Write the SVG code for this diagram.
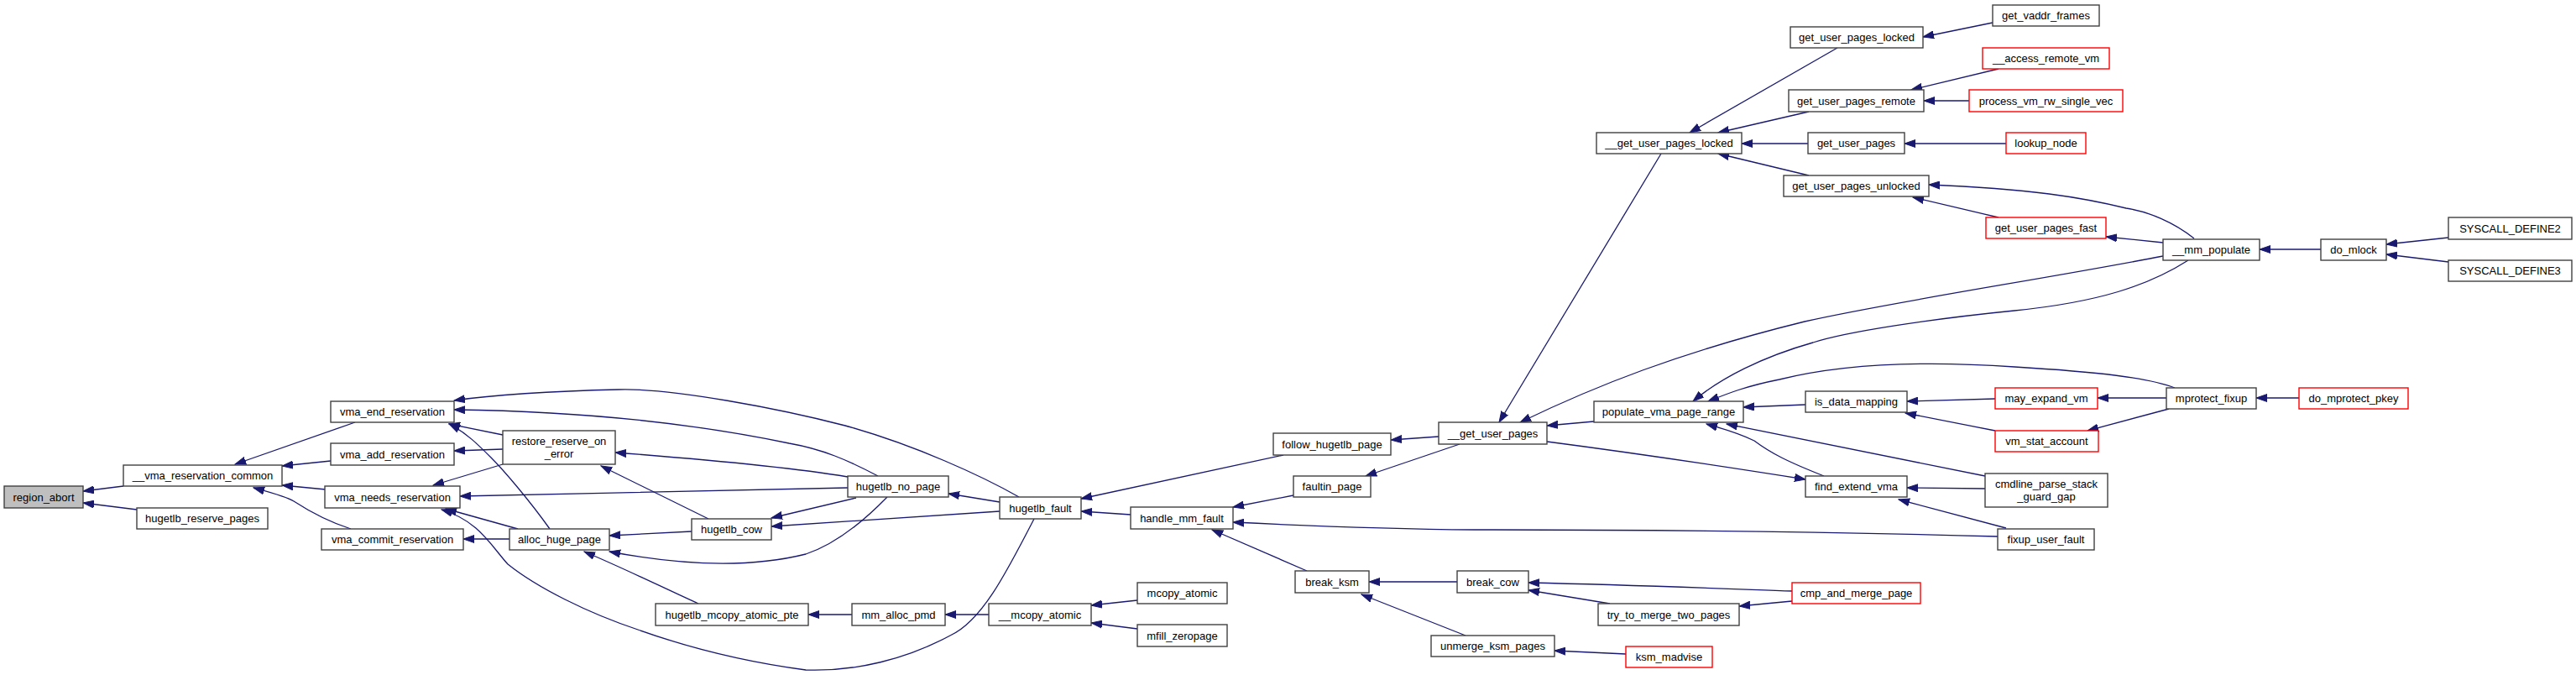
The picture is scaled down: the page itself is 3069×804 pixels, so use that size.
<svg xmlns="http://www.w3.org/2000/svg" width="3069" height="804" viewBox="0 0 3069 804">
<style>
.n rect{fill:#ffffff;stroke:#404040;stroke-width:1.4}
.n.r rect{stroke:#ff0000}
.n.g rect{fill:#bfbfbf}
.n text{font-family:"Liberation Sans",Arial,Helvetica,sans-serif;font-size:13px;fill:#000000;text-anchor:middle}
.e path{fill:none;stroke:#191970;stroke-width:1.3;marker-end:url(#ah)}
</style>
<defs>
<marker id="ah" markerUnits="userSpaceOnUse" markerWidth="14" markerHeight="10" refX="13" refY="5" orient="auto" viewBox="0 0 14 10">
<path d="M0,0.5 L13,5 L0,9.5 z" fill="#191970" stroke="#191970" stroke-width="1"/>
</marker>
</defs>
<rect width="3069" height="804" fill="#ffffff"/>
<g id="edges" class="e">
<path d="M147,579 L99,585"/>
<path d="M163,607 L99,599"/>
<path d="M423,503 L280,553"/>
<path d="M394,549 L336,555"/>
<path d="M388,583 L336,578"/>
<path d="M418,630 C390,621 370,610 350,597 C340,591 320,586 302,581"/>
<path d="M1214,592 C1170,567 1090,530 1007,507 C930,487 800,462 737,464 C650,466 590,470 541,477"/>
<path d="M1046,567 C1010,548 980,535 940,528 C830,505 700,490 541,488"/>
<path d="M599,518 L535,505"/>
<path d="M655,630 C630,595 600,560 585,545 C570,530 555,515 535,505"/>
<path d="M599,535 L541,537"/>
<path d="M599,553 L516,578"/>
<path d="M1010,581 C900,583 700,588 548,591"/>
<path d="M617,630 L531,606"/>
<path d="M1232,618 C1200,680 1170,740 1132,757 C1080,785 1020,800 960,798 C900,790 830,775 760,750 C700,730 640,700 605,672 C585,650 570,620 526,607"/>
<path d="M607,642 L552,642"/>
<path d="M1010,568 C950,558 850,548 733,539"/>
<path d="M844,618 L716,555"/>
<path d="M824,633 L726,638"/>
<path d="M1057,592 C1020,630 990,650 960,660 C900,675 820,675 726,657"/>
<path d="M832,719 C790,700 750,680 696,657"/>
<path d="M1020,593 L919,617"/>
<path d="M1191,609 L919,627"/>
<path d="M1191,598 L1130,588"/>
<path d="M1015,732 L963,732"/>
<path d="M1178,732 L1126,732"/>
<path d="M1355,715 L1300,721"/>
<path d="M1355,749 L1300,742"/>
<path d="M1347,613 L1288,609"/>
<path d="M1529,542 L1288,594"/>
<path d="M1541,590 L1469,604"/>
<path d="M2380,639 C2200,634 2000,631 1757,631 C1650,630 1550,626 1469,622"/>
<path d="M1557,680 L1444,631"/>
<path d="M1714,520 L1657,524"/>
<path d="M1739,529 L1627,567"/>
<path d="M1736,693 L1631,693"/>
<path d="M1746,757 L1622,708"/>
<path d="M2135,704 C2050,701 1950,697 1821,694"/>
<path d="M1918,719 L1821,703"/>
<path d="M1937,779 L1852,775"/>
<path d="M2135,716 L2072,722"/>
<path d="M1979,183 Q1890,330 1786,503"/>
<path d="M1899,502 L1843,507"/>
<path d="M1843,526 C1950,540 2050,555 2151,571"/>
<path d="M2577,305 C2450,330 2250,360 2150,383 C2000,420 1900,460 1811,503"/>
<path d="M2607,310 C2560,340 2500,360 2400,370 C2300,380 2200,395 2160,408 C2100,425 2050,450 2017,478"/>
<path d="M2591,462 C2560,450 2500,443 2400,437 C2300,430 2200,432 2120,452 C2080,460 2060,468 2035,478"/>
<path d="M2151,482 L2077,485"/>
<path d="M2173,567 C2130,550 2110,540 2090,525 C2070,515 2050,510 2033,505"/>
<path d="M2365,567 L2057,505"/>
<path d="M2377,475 L2272,478"/>
<path d="M2377,513 L2270,492"/>
<path d="M2581,474 L2499,474"/>
<path d="M2584,487 L2487,513"/>
<path d="M2365,582 L2272,581"/>
<path d="M2390,629 L2262,595"/>
<path d="M2739,474 L2688,474"/>
<path d="M2765,297 L2692,297"/>
<path d="M2917,283 L2843,291"/>
<path d="M2917,312 L2843,303"/>
<path d="M2614,284 C2590,265 2560,252 2533,248 C2480,235 2420,225 2298,220"/>
<path d="M2577,289 L2509,282"/>
<path d="M2189,57 L2013,158"/>
<path d="M2155,133 L2047,158"/>
<path d="M2154,171 L2075,171"/>
<path d="M2155,209 L2047,183"/>
<path d="M2374,27 L2291,44"/>
<path d="M2381,82 L2277,107"/>
<path d="M2346,120 L2292,120"/>
<path d="M2390,171 L2269,171"/>
<path d="M2381,259 L2279,235"/>
</g>
<g id="n_region_abort" class="n g"><rect x="5" y="579" width="94" height="26"/><text x="52" y="596.5">region_abort</text></g>
<g id="n___vma_reservation_common" class="n"><rect x="147" y="554" width="189" height="25"/><text x="241.5" y="571">__vma_reservation_common</text></g>
<g id="n_hugetlb_reserve_pages" class="n"><rect x="163" y="605" width="156" height="25"/><text x="241" y="622">hugetlb_reserve_pages</text></g>
<g id="n_vma_end_reservation" class="n"><rect x="394" y="478" width="147" height="25"/><text x="467.5" y="495">vma_end_reservation</text></g>
<g id="n_vma_add_reservation" class="n"><rect x="394" y="528" width="147" height="26"/><text x="467.5" y="545.5">vma_add_reservation</text></g>
<g id="n_vma_needs_reservation" class="n"><rect x="387" y="579" width="161" height="26"/><text x="467.5" y="596.5">vma_needs_reservation</text></g>
<g id="n_vma_commit_reservation" class="n"><rect x="383" y="630" width="169" height="25"/><text x="467.5" y="647">vma_commit_reservation</text></g>
<g id="n_restore_reserve_on_error" class="n"><rect x="599" y="513" width="134" height="40"/><text x="666" y="530">restore_reserve_on</text><text x="666" y="545">_error</text></g>
<g id="n_alloc_huge_page" class="n"><rect x="607" y="630" width="119" height="25"/><text x="666.5" y="647">alloc_huge_page</text></g>
<g id="n_hugetlb_cow" class="n"><rect x="824" y="618" width="95" height="25"/><text x="871.5" y="635">hugetlb_cow</text></g>
<g id="n_hugetlb_mcopy_atomic_pte" class="n"><rect x="781" y="719" width="182" height="26"/><text x="872" y="736.5">hugetlb_mcopy_atomic_pte</text></g>
<g id="n_hugetlb_no_page" class="n"><rect x="1010" y="567" width="120" height="25"/><text x="1070" y="584">hugetlb_no_page</text></g>
<g id="n_hugetlb_fault" class="n"><rect x="1191" y="592" width="97" height="26"/><text x="1239.5" y="609.5">hugetlb_fault</text></g>
<g id="n_handle_mm_fault" class="n"><rect x="1347" y="604" width="122" height="26"/><text x="1408" y="621.5">handle_mm_fault</text></g>
<g id="n_mm_alloc_pmd" class="n"><rect x="1015" y="719" width="111" height="26"/><text x="1070.5" y="736.5">mm_alloc_pmd</text></g>
<g id="n___mcopy_atomic" class="n"><rect x="1178" y="719" width="122" height="26"/><text x="1239" y="736.5">__mcopy_atomic</text></g>
<g id="n_mcopy_atomic" class="n"><rect x="1355" y="694" width="107" height="25"/><text x="1408.5" y="711">mcopy_atomic</text></g>
<g id="n_mfill_zeropage" class="n"><rect x="1355" y="744" width="107" height="26"/><text x="1408.5" y="761.5">mfill_zeropage</text></g>
<g id="n_follow_hugetlb_page" class="n"><rect x="1517" y="516" width="140" height="26"/><text x="1587" y="533.5">follow_hugetlb_page</text></g>
<g id="n___get_user_pages" class="n"><rect x="1714" y="503" width="129" height="26"/><text x="1778.5" y="520.5">__get_user_pages</text></g>
<g id="n_faultin_page" class="n"><rect x="1541" y="567" width="92" height="25"/><text x="1587" y="584">faultin_page</text></g>
<g id="n_break_ksm" class="n"><rect x="1543" y="680" width="88" height="26"/><text x="1587" y="697.5">break_ksm</text></g>
<g id="n_break_cow" class="n"><rect x="1736" y="680" width="85" height="26"/><text x="1778.5" y="697.5">break_cow</text></g>
<g id="n_unmerge_ksm_pages" class="n"><rect x="1705" y="757" width="147" height="25"/><text x="1778.5" y="774">unmerge_ksm_pages</text></g>
<g id="n_populate_vma_page_range" class="n"><rect x="1899" y="478" width="178" height="25"/><text x="1988" y="495">populate_vma_page_range</text></g>
<g id="n_is_data_mapping" class="n"><rect x="2151" y="466" width="121" height="25"/><text x="2211.5" y="483">is_data_mapping</text></g>
<g id="n_may_expand_vm" class="n r"><rect x="2377" y="462" width="122" height="25"/><text x="2438" y="479">may_expand_vm</text></g>
<g id="n_vm_stat_account" class="n r"><rect x="2377" y="513" width="123" height="25"/><text x="2438.5" y="530">vm_stat_account</text></g>
<g id="n_cmdline_parse_stack_guard_gap" class="n"><rect x="2365" y="564" width="146" height="40"/><text x="2438" y="581">cmdline_parse_stack</text><text x="2438" y="596">_guard_gap</text></g>
<g id="n_find_extend_vma" class="n"><rect x="2151" y="567" width="121" height="25"/><text x="2211.5" y="584">find_extend_vma</text></g>
<g id="n_fixup_user_fault" class="n"><rect x="2380" y="630" width="115" height="25"/><text x="2437.5" y="647">fixup_user_fault</text></g>
<g id="n_cmp_and_merge_page" class="n r"><rect x="2135" y="694" width="153" height="25"/><text x="2211.5" y="711">cmp_and_merge_page</text></g>
<g id="n_try_to_merge_two_pages" class="n"><rect x="1904" y="719" width="168" height="26"/><text x="1988" y="736.5">try_to_merge_two_pages</text></g>
<g id="n_ksm_madvise" class="n r"><rect x="1937" y="770" width="103" height="25"/><text x="1988.5" y="787">ksm_madvise</text></g>
<g id="n___get_user_pages_locked" class="n"><rect x="1902" y="158" width="173" height="25"/><text x="1988.5" y="175">__get_user_pages_locked</text></g>
<g id="n_get_user_pages_locked" class="n"><rect x="2133" y="32" width="158" height="25"/><text x="2212" y="49">get_user_pages_locked</text></g>
<g id="n_get_user_pages_remote" class="n"><rect x="2131" y="107" width="161" height="26"/><text x="2211.5" y="124.5">get_user_pages_remote</text></g>
<g id="n_get_user_pages" class="n"><rect x="2154" y="158" width="115" height="25"/><text x="2211.5" y="175">get_user_pages</text></g>
<g id="n_get_user_pages_unlocked" class="n"><rect x="2125" y="209" width="173" height="25"/><text x="2211.5" y="226">get_user_pages_unlocked</text></g>
<g id="n_get_vaddr_frames" class="n"><rect x="2374" y="6" width="127" height="25"/><text x="2437.5" y="23">get_vaddr_frames</text></g>
<g id="n___access_remote_vm" class="n r"><rect x="2362" y="57" width="151" height="25"/><text x="2437.5" y="74">__access_remote_vm</text></g>
<g id="n_process_vm_rw_single_vec" class="n r"><rect x="2346" y="107" width="183" height="26"/><text x="2437.5" y="124.5">process_vm_rw_single_vec</text></g>
<g id="n_lookup_node" class="n r"><rect x="2390" y="158" width="95" height="25"/><text x="2437.5" y="175">lookup_node</text></g>
<g id="n_get_user_pages_fast" class="n r"><rect x="2366" y="259" width="143" height="25"/><text x="2437.5" y="276">get_user_pages_fast</text></g>
<g id="n___mm_populate" class="n"><rect x="2577" y="285" width="115" height="25"/><text x="2634.5" y="302">__mm_populate</text></g>
<g id="n_do_mlock" class="n"><rect x="2765" y="285" width="78" height="25"/><text x="2804" y="302">do_mlock</text></g>
<g id="n_SYSCALL_DEFINE2" class="n"><rect x="2917" y="259" width="147" height="26"/><text x="2990.5" y="276.5">SYSCALL_DEFINE2</text></g>
<g id="n_SYSCALL_DEFINE3" class="n"><rect x="2917" y="310" width="147" height="25"/><text x="2990.5" y="327">SYSCALL_DEFINE3</text></g>
<g id="n_mprotect_fixup" class="n"><rect x="2581" y="462" width="107" height="25"/><text x="2634.5" y="479">mprotect_fixup</text></g>
<g id="n_do_mprotect_pkey" class="n r"><rect x="2739" y="462" width="130" height="25"/><text x="2804" y="479">do_mprotect_pkey</text></g>
</svg>
